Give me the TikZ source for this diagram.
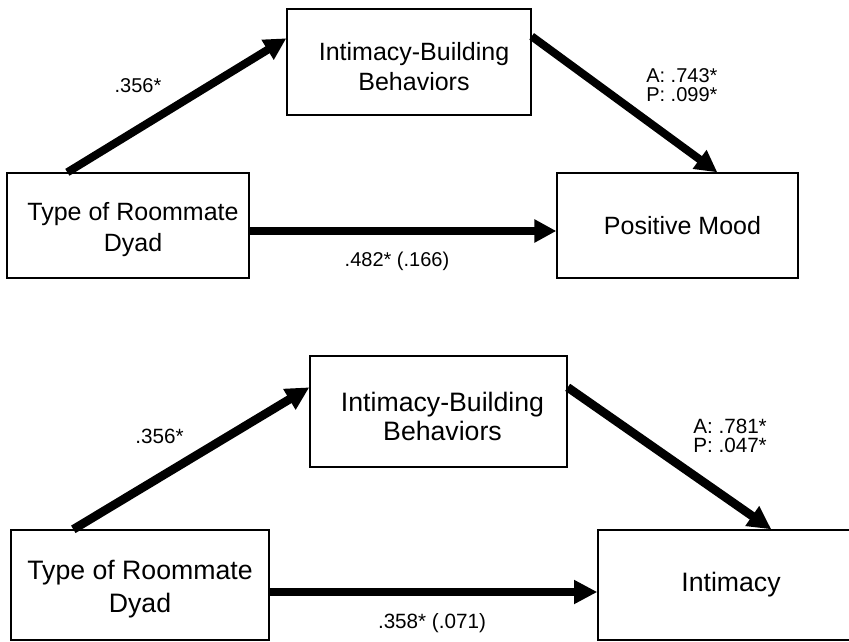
\documentclass[tikz,border=0pt]{standalone}
\usepackage{fontspec}
\setmainfont{Liberation Sans}
\usetikzlibrary{arrows.meta,calc}
\begin{document}
\begin{tikzpicture}[x=0.75pt,y=-0.75pt,
  box/.style={draw=black, line width=1pt, rectangle, inner sep=0pt, fill=white},
  boxtext/.style={inner sep=0pt, align=center},
  patharrow/.style={line width=6pt, -{Triangle[length=16.5pt,width=16.5pt]}},
  patharrowb/.style={line width=6.5pt, -{Triangle[length=17.5pt,width=17pt]}},
  lab/.style={font=\fontsize{15}{14.25}\selectfont, inner sep=0pt},
  labb/.style={font=\fontsize{15.5}{14.25}\selectfont, inner sep=0pt}]
\useasboundingbox (0,0) rectangle (849,642);
\clip (0,0) rectangle (849,642);
% ---------- top diagram ----------
\node[box, minimum width=181.5pt, minimum height=78.75pt] (A1) at (128,225.5) {};
\node[box, minimum width=183pt, minimum height=79.5pt] (M1) at (409,62) {};
\node[box, minimum width=180.75pt, minimum height=78.75pt] (Y1) at (677.5,225.5) {};
\node[boxtext, font=\fontsize{18.75}{23.25}\selectfont] (A1t) at ($(A1)+(5,4.5)$) {Type of Roommate\\Dyad};
\node[boxtext, font=\fontsize{18.75}{22.5}\selectfont] (M1t) at ($(M1)+(5,5)$) {Intimacy-Building\\Behaviors};
\node[boxtext, font=\fontsize{18.75}{22.5}\selectfont] (Y1t) at ($(Y1)+(5,0)$) {Positive Mood};
\draw[patharrow] ($(A1.north west)+(61,0)$) -- ($(M1.north west)+(0,30)$);
\draw[patharrow] ($(M1.north east)+(0,28)$) -- ($(Y1.north west)+(161,0)$);
\draw[patharrow] ($(A1.east)+(0,5.5)$) -- ($(Y1.west)+(0,5.5)$);
\node[lab] (l1) at (138,86) {.356*};
\node[lab, align=left, anchor=west] (l2) at (646,85) {A: .743*\\P: .099*};
\node[lab] (l3) at (397,261) {.482* (.166)};
% ---------- bottom diagram ----------
\node[box, minimum width=193.5pt, minimum height=82.5pt] (A2) at (140,585) {};
\node[box, minimum width=192.75pt, minimum height=83.25pt] (M2) at (438.5,411.5) {};
\node[box, minimum width=193.5pt, minimum height=82.5pt] (Y2) at (727,585) {};
\node[boxtext, font=\fontsize{20}{24.75}\selectfont] (A2t) at ($(A2)+(0,4)$) {Type of Roommate\\Dyad};
\node[boxtext, font=\fontsize{20}{21.75}\selectfont] (M2t) at ($(M2)+(4,5)$) {Intimacy-Building\\Behaviors};
\node[boxtext, font=\fontsize{20}{22}\selectfont] (Y2t) at ($(Y2)+(4,0)$) {Intimacy};
\draw[patharrowb] ($(A2.north west)+(63,0)$) -- ($(M2.north west)+(0,32)$);
\draw[patharrowb] ($(M2.north east)+(0,32)$) -- ($(Y2.north west)+(174,0)$);
\draw[patharrowb] ($(A2.east)+(0,7)$) -- ($(Y2.west)+(0,7)$);
\node[labb] (l4) at (159.5,436) {.356*};
\node[labb, align=left, anchor=west] (l5) at (693,436) {A: .781*\\P: .047*};
\node[labb] (l6) at (432,623) {.358* (.071)};
\end{tikzpicture}
\end{document}
